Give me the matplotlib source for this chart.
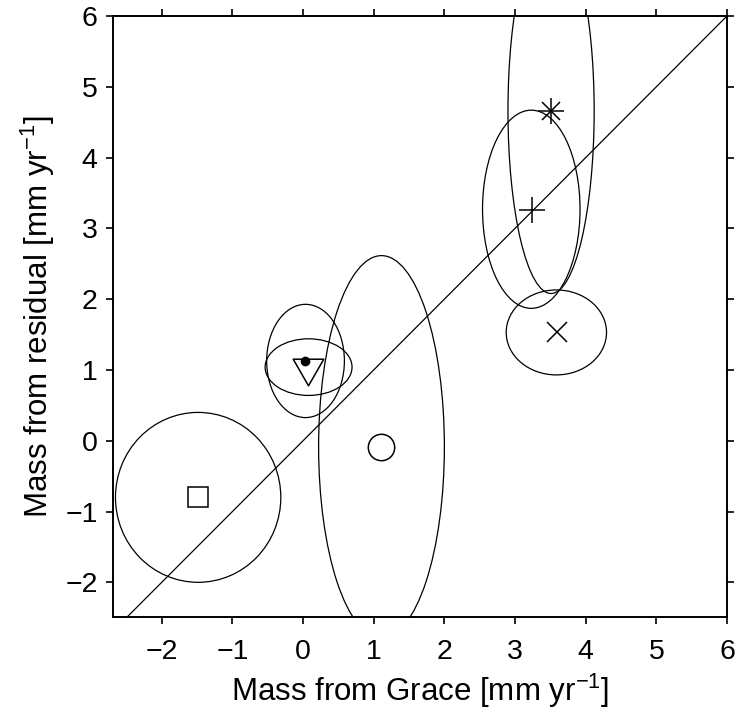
import matplotlib
matplotlib.use("Agg")
import matplotlib.pyplot as plt
from matplotlib.patches import Ellipse
from matplotlib.path import Path

plt.rcParams['font.family'] = ['Liberation Sans', 'DejaVu Sans']
plt.rcParams['mathtext.fontset'] = 'custom'
plt.rcParams['mathtext.rm'] = 'Liberation Sans'
plt.rcParams['mathtext.it'] = 'Liberation Sans:italic'

# Data (mm/yr)
names = ["square", "triangle", "dot", "circle", "plus", "asterisk", "cross"]
grace = [-1.485, 0.07, 0.03, 1.11, 3.235, 3.51, 3.59]
residual = [-0.80, 0.97, 1.12, -0.085, 3.26, 4.66, 1.53]
ell_cx = [-1.485, 0.078, 0.035, 1.11, 3.23, 3.51, 3.585]
ell_cy = [-0.80, 1.04, 1.127, -0.085, 3.27, 4.66, 1.53]
ell_rx = [1.17, 0.615, 0.55, 0.89, 0.69, 0.61, 0.71]
ell_ry = [1.20, 0.40, 0.80, 2.70, 1.40, 2.58, 0.60]
xticks = [-2, -1, 0, 1, 2, 3, 4, 5, 6]
yticks = [-2, -1, 0, 1, 2, 3, 4, 5, 6]

fig = plt.figure(figsize=(7.38, 7.17), dpi=100)
ax = fig.add_axes([113/738, 1-617/717, (727-113)/738, (617-16)/717])

for cx, cy, rx, ry in zip(ell_cx, ell_cy, ell_rx, ell_ry):
    ax.add_patch(Ellipse((cx, cy), 2*rx, 2*ry, fill=False, edgecolor='black', lw=0.9))

ax.plot([-2.5, 6], [-2.5, 6], color='black', lw=0.9)

tri = Path([(-1, 0.87), (1, 0.87), (0, -0.87), (-1, 0.87)],
           [Path.MOVETO, Path.LINETO, Path.LINETO, Path.CLOSEPOLY])

mk = dict(color='black', mfc='none', mec='black', linestyle='none')
ax.plot(grace[0], residual[0], marker='s', ms=15, mew=1.1, **mk)
ax.plot(grace[1], residual[1], marker=tri, ms=22, mew=1.1, **mk)
ax.plot(grace[2], residual[2], marker='o', ms=6, color='black', linestyle='none')
ax.plot(grace[3], residual[3], marker='o', ms=19, mew=1.1, **mk)
ax.plot(grace[4], residual[4], marker='+', ms=19, mew=1.1, **mk)
ax.plot(grace[5], residual[5], marker='+', ms=19, mew=1.1, **mk)
ax.plot(grace[5], residual[5], marker='x', ms=13, mew=1.1, **mk)
ax.plot(grace[6], residual[6], marker='x', ms=14, mew=1.1, **mk)

ax.set_xlim(-2.69, 6)
ax.set_ylim(-2.49, 6)
ax.set_xticks(xticks)
ax.set_yticks(yticks)
ax.set_xticklabels([f"\u2212{abs(t)}" if t < 0 else str(t) for t in xticks])
ax.set_yticklabels([f"\u2212{abs(t)}" if t < 0 else str(t) for t in yticks])
ax.tick_params(direction='out', length=5, width=1.2, labelsize=20.5,
               top=True, right=True)
ax.tick_params(axis='x', pad=11)
ax.tick_params(axis='y', pad=6)
for s in ax.spines.values():
    s.set_linewidth(1.4)

ax.set_xlabel(r"Mass from Grace [mm yr$^{\mathregular{-1}}$]", fontsize=22.5, labelpad=5)
ax.set_ylabel(r"Mass from residual [mm yr$^{\mathregular{-1}}$]", fontsize=22.5, labelpad=6)

fig.savefig("out.png", dpi=100)
